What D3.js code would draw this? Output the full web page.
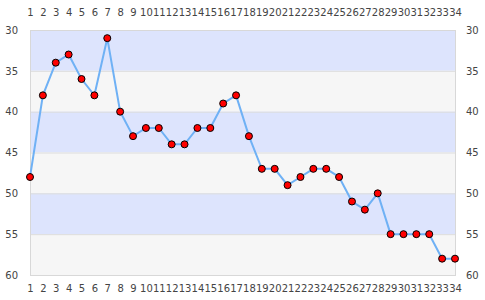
<!DOCTYPE html>
<html>
<head>
<meta charset="utf-8">
<script src="https://cdn.jsdelivr.net/npm/d3@7"></script>
<style>
  html, body { margin: 0; padding: 0; background: #fff; }
  svg text { font-family: "DejaVu Sans", sans-serif; font-size: 10px; fill: #444; }
</style>
</head>
<body>
<div id="chart"></div>
<script>
// data
const positions = d3.range(1, 35);
const values = [48, 38, 34, 33, 36, 38, 31, 40, 43, 42, 42, 44, 44, 42, 42, 39, 38, 43,
  47, 47, 49, 48, 47, 47, 48, 51, 52, 50, 55, 55, 55, 55, 58, 58];
const yTicks = [30, 35, 40, 45, 50, 55, 60];
const bands = [[30, 35], [35, 40], [40, 45], [45, 50], [50, 55], [55, 60]];

const width = 485, height = 300;
const m = { top: 30, right: 30, bottom: 25, left: 30 };

const svg = d3.select("#chart").append("svg")
  .attr("width", width).attr("height", height);

const x = d3.scaleLinear().domain([1, 34]).range([m.left, width - m.right]);
const y = d3.scaleLinear().domain([30, 60]).range([m.top, height - m.bottom]);

// alternating bands
svg.append("g").selectAll("rect")
  .data(bands)
  .join("rect")
  .attr("x", m.left)
  .attr("width", width - m.left - m.right)
  .attr("y", d => y(d[0]))
  .attr("height", d => y(d[1]) - y(d[0]))
  .attr("fill", (d, i) => i % 2 === 0 ? "#dde4fd" : "#f6f6f6");

// grid lines
svg.append("g").selectAll("line")
  .data(yTicks.slice(1, -1))
  .join("line")
  .attr("x1", m.left).attr("x2", width - m.right)
  .attr("y1", d => y(d) + 0.5).attr("y2", d => y(d) + 0.5)
  .attr("stroke", "#dcdcdc");

// frame
svg.append("rect")
  .attr("x", m.left + 0.5).attr("y", m.top + 0.5)
  .attr("width", width - m.left - m.right).attr("height", height - m.top - m.bottom)
  .attr("fill", "none").attr("stroke", "#d8d8d8");

// axes (labels only)
function styleAxis(g) {
  g.select(".domain").remove();
  g.selectAll(".tick line").remove();
  g.selectAll("text").attr("fill", "#444").style("font-size", "10px");
}
svg.append("g").attr("transform", `translate(${m.left - 9},0)`)
  .call(d3.axisLeft(y).tickValues(yTicks).tickSize(0)).call(styleAxis);
svg.append("g").attr("transform", `translate(${width - m.right + 8},0)`)
  .call(d3.axisRight(y).tickValues(yTicks).tickSize(0)).call(styleAxis);
svg.append("g").attr("transform", `translate(0,${m.top - 11})`)
  .call(d3.axisTop(x).tickValues(positions).tickFormat(d3.format("d")).tickSize(0)).call(styleAxis);
svg.append("g").attr("transform", `translate(0,${height - m.bottom + 7})`)
  .call(d3.axisBottom(x).tickValues(positions).tickFormat(d3.format("d")).tickSize(0)).call(styleAxis);

// line
const line = d3.line().x((d, i) => x(positions[i])).y(d => y(d));
svg.append("path")
  .datum(values)
  .attr("d", line)
  .attr("fill", "none")
  .attr("stroke", "#6fb1f5")
  .attr("stroke-width", 2);

// points
svg.append("g").selectAll("circle")
  .data(values)
  .join("circle")
  .attr("cx", (d, i) => x(positions[i]))
  .attr("cy", d => y(d))
  .attr("r", 3.5)
  .attr("fill", "#ff0000")
  .attr("stroke", "#000")
  .attr("stroke-width", 1);
</script>
</body>
</html>
